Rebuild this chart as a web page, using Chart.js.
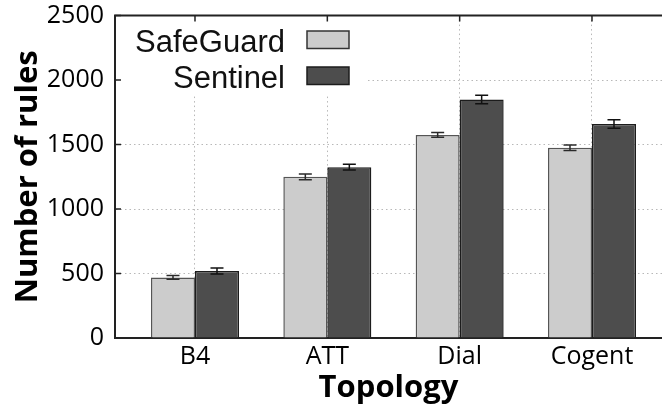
<!DOCTYPE html>
<html>
<head>
<meta charset="utf-8">
<script src="https://cdn.jsdelivr.net/npm/chart.js@4/dist/chart.umd.min.js"></script>
<style>
  html, body { margin: 0; padding: 0; background: #ffffff; }
  #wrap { width: 662px; height: 408px; position: relative; }
</style>
</head>
<body>
<div id="wrap"><canvas id="chart"></canvas></div>
<script>
// Rule counts per topology, with error margins
const categories = ['B4', 'ATT', 'Dial', 'Cogent'];
const seriesNames = ['SafeGuard', 'Sentinel'];
const safeguardRules = [470, 1250, 1575, 1475];
const sentinelRules = [520, 1325, 1850, 1660];
const safeguardErr = [14, 22, 18, 22];
const sentinelErr = [23, 22, 33, 33];
const yTickValues = [0, 500, 1000, 1500, 2000, 2500];

const tickFont = { family: '"Open Sans", sans-serif', size: 25 };
const titleFont = { family: '"Open Sans", sans-serif', size: 31, weight: 'bold' };
const gridColor = '#b8b8b8';
const frameColor = '#222222';

const toPoints = vals => vals.map((v, i) => ({ x: i, y: v }));

// Error bars, inward ticks, top frame and a gnuplot-style key
const framePlugin = {
  id: 'frameAndKey',
  beforeDatasetsDraw(chart, args, opts) {
    const { ctx, chartArea } = chart;
    ctx.save();
    ctx.fillStyle = '#ffffff';
    ctx.fillRect(chartArea.left + 1.5, chartArea.top + 1, opts.keyRight - chartArea.left - 1.5, opts.keyBottom - chartArea.top - 1);
    ctx.restore();
  },
  afterDatasetsDraw(chart) {
    const { ctx } = chart;
    const yScale = chart.scales.y;
    ctx.save();
    ctx.lineWidth = 1.5;
    chart.data.datasets.forEach((ds, di) => {
      const meta = chart.getDatasetMeta(di);
      meta.data.forEach((bar, i) => {
        const v = ds.data[i].y;
        const e = ds.errors[i];
        const yt = yScale.getPixelForValue(v + e);
        const yb = yScale.getPixelForValue(v - e);
        const half = 6.5;
        ctx.strokeStyle = ds.errorColor;
        ctx.beginPath();
        ctx.moveTo(bar.x, yt); ctx.lineTo(bar.x, yb);
        ctx.moveTo(bar.x - half, yt); ctx.lineTo(bar.x + half, yt);
        ctx.moveTo(bar.x - half, yb); ctx.lineTo(bar.x + half, yb);
        ctx.stroke();
      });
    });
    ctx.restore();
  },
  afterDraw(chart, args, opts) {
    const { ctx, chartArea } = chart;
    const { left, right, top } = chartArea;
    ctx.save();
    // top frame line
    ctx.strokeStyle = frameColor;
    ctx.lineWidth = 2;
    ctx.beginPath();
    ctx.moveTo(left - 1, top); ctx.lineTo(right, top);
    ctx.stroke();
    // inward tick marks
    ctx.lineWidth = 1.5;
    ctx.beginPath();
    chart.scales.y.ticks.forEach(t => {
      const y = chart.scales.y.getPixelForValue(t.value);
      if (t.value > 0) { ctx.moveTo(left, y); ctx.lineTo(left + 6, y); }
    });
    chart.scales.x.ticks.forEach(t => {
      const x = chart.scales.x.getPixelForValue(t.value);
      ctx.moveTo(x, top); ctx.lineTo(x, top + 6);
    });
    ctx.stroke();
    // key: label right-aligned, then a sample box
    ctx.font = opts.keyFont;
    ctx.textAlign = 'right';
    ctx.textBaseline = 'alphabetic';
    chart.data.datasets.forEach((ds, i) => {
      const base = opts.firstBaseline + i * opts.rowStep;
      ctx.fillStyle = '#111111';
      ctx.fillText(ds.label, opts.textRight, base);
      const bx = opts.boxLeft, by = base - 20.5;
      ctx.fillStyle = ds.backgroundColor;
      ctx.fillRect(bx, by, opts.boxWidth, opts.boxHeight);
      ctx.strokeStyle = ds.keyBorder;
      ctx.lineWidth = 1.5;
      ctx.strokeRect(bx, by, opts.boxWidth, opts.boxHeight);
    });
    ctx.restore();
  }
};

new Chart(document.getElementById('chart'), {
  type: 'bar',
  data: {
    datasets: [
      {
        label: seriesNames[0],
        data: toPoints(safeguardRules),
        errors: safeguardErr,
        backgroundColor: '#cccccc',
        borderColor: '#555555',
        keyBorder: '#333333',
        errorColor: '#2a2a2a',
        borderWidth: 1.5,
        barPercentage: 1,
        categoryPercentage: 0.665
      },
      {
        label: seriesNames[1],
        data: toPoints(sentinelRules),
        errors: sentinelErr,
        backgroundColor: '#4d4d4d',
        borderColor: '#1c1c1c',
        keyBorder: '#1c1c1c',
        errorColor: '#111111',
        borderWidth: 1.5,
        barPercentage: 1,
        categoryPercentage: 0.665
      }
    ]
  },
  options: {
    responsive: true,
    maintainAspectRatio: false,
    devicePixelRatio: 1,
    animation: false,
    layout: { padding: { top: 15.6, left: 0, right: 0, bottom: 0 } },
    plugins: {
      legend: { display: false },
      tooltip: { enabled: false },
      frameAndKey: {
        keyRight: 368,
        keyBottom: 95,
        keyFont: '31px "Liberation Sans", Arial, sans-serif',
        textRight: 285,
        firstBaseline: 51.5,
        rowStep: 36,
        boxLeft: 307,
        boxWidth: 42,
        boxHeight: 17.5
      }
    },
    scales: {
      x: {
        type: 'linear',
        offset: false,
        min: -0.6045,
        max: 3.529,
        bounds: 'data',
        afterBuildTicks: s => { s.ticks = categories.map((_, i) => ({ value: i })); },
        afterFit: s => { s.height = 70; s.paddingLeft = 0; s.paddingRight = 0; },
        ticks: {
          callback: v => categories[v],
          font: tickFont,
          color: '#000000',
          padding: 4,
          autoSkip: false,
          maxRotation: 0
        },
        grid: { color: gridColor, lineWidth: 1, drawTicks: false, offset: false },
        border: { display: true, color: frameColor, width: 2, dash: [1.5, 3] },
        title: { display: true, text: 'Topology', font: titleFont, color: '#000000', padding: { top: 0, bottom: 1.5 } }
      },
      y: {
        type: 'linear',
        min: 0,
        max: 2500,
        afterBuildTicks: s => { s.ticks = yTickValues.map(v => ({ value: v })); },
        afterFit: s => { s.width = 115; s.paddingTop = 0; s.paddingBottom = 0; },
        ticks: { font: tickFont, color: '#000000', padding: 11, callback: v => String(v) },
        grid: { color: gridColor, lineWidth: 1, drawTicks: false },
        border: { display: true, color: frameColor, width: 2, dash: [1.5, 3] },
        title: { display: true, text: 'Number of rules', font: titleFont, color: '#000000', padding: { top: 10, bottom: 0 } }
      }
    }
  },
  plugins: [framePlugin]
});
</script>
</body>
</html>
